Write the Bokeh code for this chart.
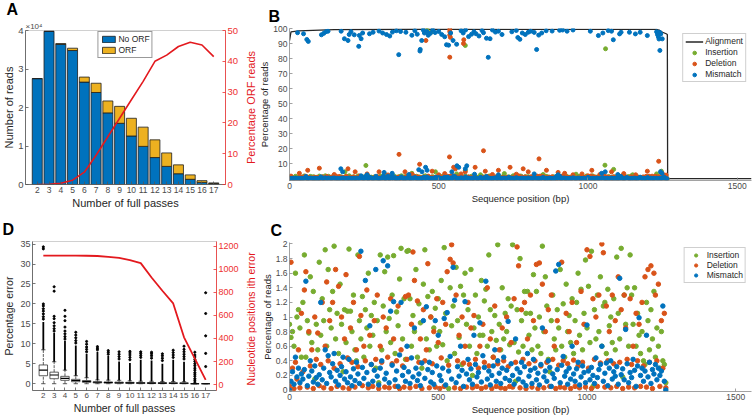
from bokeh.plotting import figure
from bokeh.models import (Range1d, LinearAxis, FixedTicker, Legend, LegendItem,
                          ColumnDataSource, PrintfTickFormatter, Title)
from bokeh.layouts import row, column
from bokeh.embed import file_html
from bokeh.resources import INLINE

FONT = "Liberation Sans"
BLUE, ORANGE, YELLOW, GREEN = "#0072BD", "#D95319", "#EDB120", "#77AC30"
RED = "#E3191E"
RED_TXT = "#EE3030"
GRAY_TXT = "#4a4a4a"
AX_GRAY = "#8a8a8a"

# ---------------- Panel A data ----------------
passes = [2, 3, 4, 5, 6, 7, 8, 9, 10, 11, 12, 13, 14, 15, 16, 17]
no_orf_reads = [27500, 39800, 36400, 34800, 26600, 23900, 18600, 15900, 12600, 9900, 7000, 4700, 2800, 1350, 550, 250]
orf_reads = [0, 0, 200, 600, 1300, 2400, 3100, 4400, 4600, 5000, 4600, 3500, 2300, 1150, 450, 170]
orf_percent = [0.0, 0.1, 0.4, 1.4, 4.0, 9.5, 15.5, 21.5, 27.5, 33.5, 40.0, 42.0, 44.8, 46.2, 45.3, 41.5]
reads_ticks = [0, 10000, 20000, 30000, 40000]
reads_tick_labels = ["0", "1", "2", "3", "4"]
orf_pct_ticks = [0, 10, 20, 30, 40, 50]

# ---------------- Panel D data ----------------
err_q1 = [2.0, 1.25, 0.85, 0.5, 0.35, 0.2, 0.15, 0.1, 0.1, 0.05, 0.05, 0.05, 0.05, 0.03, 0.0, 0.0]
err_median = [3.4, 2.2, 1.35, 0.8, 0.55, 0.35, 0.3, 0.25, 0.2, 0.18, 0.15, 0.15, 0.12, 0.1, 0.0, 0.0]
err_q3 = [4.7, 2.9, 1.85, 1.1, 0.8, 0.5, 0.45, 0.4, 0.35, 0.3, 0.28, 0.25, 0.25, 0.22, 0.0, 0.0]
err_whisker_lo = [0.0, 0.0, 0.0, 0.0, 0.0, 0.0, 0.0, 0.0, 0.0, 0.0, 0.0, 0.0, 0.0, 0.0, 0.0, 0.0]
err_whisker_hi = [8.5, 5.5, 3.4, 2.0, 1.5, 0.95, 0.9, 0.85, 0.72, 0.62, 0.6, 0.55, 0.55, 0.5, 0.0, 0.0]
err_dense_hi = [15.5, 12.8, 10.8, 9.6, 7.5, 8.0, 7.0, 5.6, 5.2, 6.0, 5.8, 5.0, 6.0, 5.5, 0.0, 0.0]
outlier_pass = [2, 2, 2, 2, 2, 2, 2, 2, 2,
                3, 3, 3, 3, 3, 3, 3, 3,
                4, 4, 4, 4, 4, 4, 4, 4,
                5, 5, 5, 5, 5,
                6, 6, 6, 6, 6,
                7, 7, 7,
                8, 8, 8,
                9, 9, 9, 9,
                10, 10, 10, 10, 10,
                11, 11, 11, 11,
                12, 12, 12, 12,
                13, 13, 13, 13,
                14, 14, 14, 14,
                15, 15, 15, 15, 15, 15,
                16, 16, 16, 16, 16, 16, 16, 16, 16, 16, 16, 16, 16, 16, 16,
                17, 17, 17, 17, 17]
outlier_err = [16.2, 16.8, 17.5, 18.2, 18.8, 19.5, 20.0, 33.8, 34.3,
               13.2, 13.8, 14.5, 15.3, 16.3, 16.9, 23.2, 24.3,
               11.2, 11.8, 12.5, 13.2, 14.2, 15.8, 16.9, 18.4,
               10.2, 10.8, 11.5, 12.2, 12.9,
               8.0, 8.6, 9.2, 9.9, 10.6,
               8.5, 8.9, 9.3,
               7.4, 7.9, 8.3,
               6.2, 6.8, 7.4, 8.0,
               6.0, 6.6, 7.2, 7.7, 8.1,
               6.6, 7.1, 7.6, 8.0,
               6.4, 7.0, 7.5, 7.9,
               5.8, 6.4, 7.0, 7.5,
               6.6, 7.2, 7.8, 8.4,
               6.2, 6.8, 7.4, 8.0, 8.6, 9.4,
               0.4, 0.9, 1.3, 1.9, 2.4, 2.8, 3.4, 3.9, 4.5, 5.0, 5.6, 6.1, 6.7, 7.2, 7.9,
               4.3, 7.6, 12.0, 17.6, 22.8]
nuc_positions = [1120, 1120, 1120, 1120, 1119, 1117, 1110, 1100, 1082, 1055, 930, 815, 705, 410, 225, 40]
err_ticks = [0, 5, 10, 15, 20, 25, 30, 35]
nuc_ticks = [0, 200, 400, 600, 800, 1000, 1200]

# ---------------- Panels B / C data ----------------
pos = [0, 5, 10, 15, 20, 25, 30, 35, 40, 45,
       50, 55, 60, 65, 70, 75, 80, 85, 90, 95,
       100, 105, 110, 115, 120, 125, 130, 135, 140, 145,
       150, 155, 160, 165, 170, 175, 180, 185, 190, 195,
       200, 205, 210, 215, 220, 225, 230, 235, 240, 245,
       250, 255, 260, 265, 270, 275, 280, 285, 290, 295,
       300, 305, 310, 315, 320, 325, 330, 335, 340, 345,
       350, 355, 360, 365, 370, 375, 380, 385, 390, 395,
       400, 405, 410, 415, 420, 425, 430, 435, 440, 445,
       450, 455, 460, 465, 470, 475, 480, 485, 490, 495,
       500, 505, 510, 515, 520, 525, 530, 535, 540, 545,
       550, 555, 560, 565, 570, 575, 580, 585, 590, 595,
       600, 605, 610, 615, 620, 625, 630, 635, 640, 645,
       650, 655, 660, 665, 670, 675, 680, 685, 690, 695,
       700, 705, 710, 715, 720, 725, 730, 735, 740, 745,
       750, 755, 760, 765, 770, 775, 780, 785, 790, 795,
       800, 805, 810, 815, 820, 825, 830, 835, 840, 845,
       850, 855, 860, 865, 870, 875, 880, 885, 890, 895,
       900, 905, 910, 915, 920, 925, 930, 935, 940, 945,
       950, 955, 960, 965, 970, 975, 980, 985, 990, 995,
       1000, 1005, 1010, 1015, 1020, 1025, 1030, 1035, 1040, 1045,
       1050, 1055, 1060, 1065, 1070, 1075, 1080, 1085, 1090, 1095,
       1100, 1105, 1110, 1115, 1120, 1125, 1130, 1135, 1140, 1145,
       1150, 1155, 1160, 1165, 1170, 1175, 1180, 1185, 1190, 1195,
       1200, 1205, 1210, 1215, 1220, 1225, 1230, 1235, 1240, 1245,
       1250, 1255, 1260, 1265]

ins_pct = [0.9, 0.72, 0.8, 0.6, 1.6, 1.0, 1.1, 0.85, 0.45, 1.2,
           1.85, 0.45, 0.95, 0.78, 1.55, 0.65, 1.35, 0.15, 0.9, 0.55,
           1.75, 0.75, 1.25, 0.95, 1.92, 0.6, 1.65, 1.1, 0.85, 1.35,
           1.97, 0.7, 1.05, 0.5, 1.45, 0.9, 0.25, 1.1, 0.65, 1.08,
           1.93, 1.08, 0.8, 1.3, 0.55, 0.4, 1.85, 0.95, 0.7, 1.28,
           0.45, 1.1, 0.85, 1.6, 0.6, 1.02, 0.75, 1.2, 0.3, 0.95,
           0.1, 1.85, 0.55, 1.15, 1.62, 0.8, 1.82, 0.98, 0.65, 1.3,
           1.84, 0.5, 1.07, 0.88, 1.52, 1.94, 0.7, 1.25, 0.42, 1.9,
           1.91, 1.25, 0.6, 1.02, 0.8, 1.65, 0.45, 1.18, 0.92, 0.3,
           1.45, 1.92, 0.7, 1.28, 0.55, 1.0, 1.35, 0.85, 1.12, 0.6,
           1.25, 0.8, 1.5, 0.62, 1.95, 1.05, 0.4, 0.02, 1.4, 0.88,
           1.15, 0.5, 1.68, 0.95, 0.72, 1.42, 0.35, 1.3, 1.6, 0.9,
           1.1, 0.6, 1.65, 0.2, 0.85, 1.3, 0.5, 1.0, 0.75, 1.5,
           0.75, 1.22, 1.38, 0.6, 1.85, 1.1, 0.8, 0.45, 1.02, 0.68,
           1.99, 0.9, 0.55, 1.4, 0.7, 1.05, 0.8, 1.25, 0.62, 1.15,
           1.99, 0.65, 0.12, 1.1, 0.52, 1.8, 0.95, 0.6, 1.35, 1.05,
           1.35, 0.75, 1.05, 0.55, 1.58, 0.85, 1.35, 0.6, 1.0, 0.5,
           1.97, 0.8, 1.55, 1.15, 0.42, 0.25, 0.95, 1.3, 0.7, 0.55,
           1.1, 0.85, 1.65, 0.6, 1.18, 0.45, 1.45, 0.8, 1.02, 0.65,
           1.25, 0.5, 0.95, 1.2, 1.6, 0.75, 1.38, 0.55, 1.05, 1.78,
           0.85, 1.42, 0.65, 1.9, 0.05, 1.1, 0.7, 1.3, 0.8, 1.55,
           0.6, 1.15, 1.2, 0.5, 1.38, 0.88, 1.0, 0.65, 1.25, 0.55,
           1.82, 1.05, 0.7, 1.94, 0.18, 1.3, 0.9, 1.4, 0.6, 1.85,
           1.3, 0.9, 1.4, 0.6, 1.05, 0.75, 0.5, 0.8, 0.4, 0.35,
           1.2, 0.95, 0.55, 1.1, 0.7, 1.35, 0.45, 0.85, 0.6, 0.3,
           0.8, 0.4, 0.35, 0.1]

del_pct = [0.05, 1.75, 0.3, 0.02, 0.38, 0.15, 0.55, 0.03, 1.05, 0.25,
           1.37, 1.62, 0.04, 0.8, 0.33, 0.55, 0.02, 1.0, 0.42, 0.78,
           0.06, 0.35, 1.2, 0.03, 0.6, 1.48, 0.4, 0.95, 0.02, 1.2,
           0.3, 1.65, 0.05, 1.42, 0.36, 1.0, 0.03, 0.7, 1.58, 0.44,
           0.02, 0.85, 0.38, 1.2, 0.04, 0.55, 0.32, 1.83, 1.02, 0.06,
           0.6, 0.4, 1.37, 0.03, 0.75, 0.35, 0.05, 0.95, 0.42, 1.3,
           0.02, 0.6, 0.38, 1.0, 0.04, 0.85, 0.45, 0.03, 1.25, 0.36,
           0.7, 0.05, 0.4, 1.15, 0.02, 0.55, 0.33, 0.04, 1.28, 0.42,
           1.3, 0.03, 0.9, 1.89, 1.5, 0.05, 1.22, 0.38, 0.7, 0.02,
           1.1, 0.4, 0.55, 1.73, 0.03, 1.0, 0.36, 0.8, 0.04, 1.25,
           0.65, 0.02, 0.44, 1.2, 0.05, 0.9, 1.62, 0.34, 1.79, 1.99,
           1.74, 0.03, 1.3, 0.4, 0.75, 0.02, 1.0, 0.37, 0.6, 0.04,
           1.2, 0.35, 0.85, 0.03, 1.02, 0.42, 0.05, 0.3, 0.6, 0.02,
           0.9, 0.38, 0.04, 1.4, 0.33, 0.7, 0.02, 0.45, 1.15, 0.05,
           0.36, 0.55, 0.03, 0.85, 0.4, 0.02, 1.0, 0.32, 0.05, 0.65,
           0.04, 1.25, 0.38, 1.96, 1.7, 0.03, 1.1, 0.42, 1.2, 0.02,
           0.7, 0.36, 1.3, 0.04, 0.95, 0.4, 1.72, 0.02, 1.74, 0.33,
           1.45, 0.03, 0.8, 0.38, 1.1, 0.05, 1.3, 0.42, 0.6, 0.02,
           0.95, 0.34, 0.04, 1.75, 0.4, 0.03, 1.05, 0.36, 0.8, 0.02,
           1.2, 0.41, 0.05, 0.65, 0.33, 0.03, 1.35, 0.38, 0.9, 0.04,
           1.92, 0.3, 1.83, 0.02, 1.25, 0.42, 1.0, 0.05, 1.3, 0.37,
           2.0, 1.88, 0.04, 1.15, 0.4, 0.8, 0.03, 1.3, 0.36, 0.95,
           0.05, 1.55, 0.38, 1.1, 0.02, 1.3, 0.85, 0.42, 0.04, 1.25,
           0.35, 0.6, 0.03, 1.05, 0.4, 0.9, 0.05, 1.2, 0.33, 1.55,
           0.04, 1.65, 0.38, 1.7, 0.02, 1.6, 1.3, 0.4, 1.45, 0.05,
           0.95, 0.3, 1.05, 0.03]

mis_pct = [0.0, 0.12, 0.25, 0.08, 0.45, 0.18, 0.3, 0.1, 0.22, 0.15,
           0.28, 1.49, 0.06, 0.19, 0.4, 0.26, 0.11, 0.33, 0.17, 0.08,
           0.21, 1.2, 0.14, 0.3, 0.55, 0.09, 0.47, 0.24, 0.18, 0.36,
           0.5, 0.12, 0.27, 0.07, 0.2, 0.32, 0.45, 0.15, 0.25, 0.1,
           0.42, 0.18, 0.06, 0.29, 0.13, 0.38, 0.22, 0.09, 1.9, 0.31,
           0.16, 1.5, 0.24, 0.08, 0.88, 0.35, 0.12, 0.27, 1.65, 0.19,
           0.07, 0.3, 0.4, 1.77, 0.15, 0.23, 1.7, 0.1, 1.08, 0.34,
           1.21, 0.14, 0.26, 0.05, 0.48, 1.2, 0.2, 0.31, 0.12, 0.6,
           0.25, 0.09, 0.44, 0.18, 0.85, 0.3, 0.13, 0.22, 0.06, 0.37,
           0.95, 0.16, 1.14, 0.28, 0.38, 0.11, 0.24, 0.08, 0.95, 0.33,
           0.75, 0.2, 0.13, 0.3, 0.98, 0.07, 1.06, 0.26, 0.46, 0.15,
           1.68, 1.23, 0.1, 0.32, 0.19, 0.6, 0.27, 0.05, 1.21, 0.22,
           0.42, 0.14, 0.29, 0.08, 0.75, 0.35, 0.18, 0.24, 0.92, 0.11,
           0.47, 0.31, 1.49, 0.15, 0.26, 0.07, 0.2, 0.33, 0.55, 0.12,
           0.4, 0.23, 0.09, 0.3, 0.45, 0.16, 0.27, 0.94, 0.13, 0.36,
           0.2, 0.08, 0.7, 0.29, 0.15, 0.24, 0.38, 0.11, 0.32, 0.06,
           0.5, 0.19, 0.27, 0.09, 0.42, 0.3, 0.14, 0.23, 0.07, 0.35,
           0.85, 0.18, 0.26, 0.12, 0.4, 0.31, 0.05, 0.22, 0.16, 1.63,
           0.28, 1.72, 0.1, 0.34, 0.46, 0.19, 0.25, 0.08, 0.3, 0.15,
           0.6, 0.22, 0.12, 0.29, 0.38, 0.07, 0.18, 0.33, 0.24, 0.1,
           0.89, 0.26, 0.14, 0.31, 0.2, 0.09, 0.44, 0.17, 0.28, 0.35,
           0.6, 0.12, 0.23, 0.37, 0.06, 0.3, 0.4, 0.15, 0.25, 0.19,
           0.32, 0.08, 1.53, 0.21, 0.29, 0.14, 0.83, 0.36, 0.1, 0.24,
           0.17, 0.42, 0.27, 0.05, 0.33, 0.99, 0.2, 0.3, 0.12, 0.26,
           0.75, 0.18, 0.38, 0.09, 0.28, 0.22, 0.35, 0.14, 0.3, 0.2,
           0.26, 1.15, 0.12, 0.0]

# sites with larger rates (visible in panel B)
ins_hi_pos = [186, 256, 320, 410, 461, 474, 489, 560, 589, 589, 640, 720, 850, 960, 1057, 1059, 1086, 1150, 1230, 1246]
ins_hi_pct = [4.6, 8.8, 2.8, 3.6, 98.8, 97.5, 4.6, 3.2, 5.6, 88.7, 2.6, 3.4, 2.8, 3.0, 9.0, 86.5, 6.2, 2.6, 3.2, 5.0]

del_hi_pos = [33, 61, 100, 150, 196, 220, 260, 300, 330, 367, 387, 410, 436, 457, 478, 500, 520,
              536, 537, 537, 537, 539, 537, 550, 556, 575, 583, 584, 589, 622, 650, 656, 680, 700,
              739, 760, 783, 800, 836, 861, 900, 922, 950, 980, 1013, 1040, 1079, 1120, 1160,
              1199, 1237, 1250, 1262]
del_hi_pct = [3.6, 5.6, 7.0, 2.8, 6.6, 4.6, 3.2, 4.6, 2.5, 16.2, 4.6, 3.0, 9.6, 92.0, 5.0, 2.6, 3.4,
              14.5, 99.4, 97.9, 95.7, 94.1, 80.9, 7.6, 6.6, 3.2, 90.0, 92.5, 4.6, 7.6, 18.6, 5.0, 2.8, 5.6,
              7.6, 3.0, 6.6, 4.6, 13.2, 5.6, 4.2, 3.6, 2.6, 3.2, 5.6, 2.8, 4.6, 3.4, 2.6,
              5.0, 11.6, 3.2, 2.4]

mis_hi_pos = [172, 178, 260, 317, 344, 400, 433, 444, 456, 461, 544, 561, 567, 589, 594, 620, 700,
              820, 900, 1046, 1058, 1100, 1243, 1248,
              27, 47, 58, 63, 107, 115, 122, 129, 173, 184, 196, 200, 206, 217, 232, 234, 240, 245,
              268, 280, 300, 312, 325, 336, 345, 358, 366, 372, 390, 410, 420, 428, 437, 438, 443,
              448, 452, 460, 465, 472, 480, 488, 500, 510, 520, 526, 533, 540, 548, 560, 575, 582,
              590, 600, 610, 618, 625, 635, 645, 650, 660, 666, 672, 680, 690, 700, 712, 745, 760,
              765, 772, 780, 790, 800, 808, 820, 828, 835, 845, 860, 880, 905, 915, 930, 950, 1008,
              1035, 1050, 1068, 1079, 1085, 1106, 1111, 1139, 1159, 1175, 1199, 1230, 1233, 1236,
              1238, 1240, 1241, 1242, 1244, 1249]
mis_hi_pct = [6.6, 4.6, 2.6, 4.2, 3.6, 2.8, 6.0, 4.6, 7.6, 5.6, 4.6, 8.6, 7.6, 6.6, 8.6, 3.0, 2.6,
              3.2, 2.6, 3.6, 4.6, 2.8, 4.6, 3.6,
              97.2, 96.5, 92.7, 91.4, 95.8, 96.8, 97.9, 98.2, 98.2, 93.2, 92.0, 96.0, 97.9, 95.8, 88.1, 95.4, 93.2, 97.0,
              96.5, 97.5, 98.3, 97.0, 96.0, 95.0, 97.6, 98.5, 82.6, 98.0, 97.5, 95.5, 98.5, 96.2, 85.0, 86.1, 92.0,
              99.0, 97.0, 98.0, 95.5, 96.8, 99.0, 97.3, 98.0, 96.0, 94.5, 89.2, 88.9, 97.0, 92.0, 89.5, 98.5, 97.0,
              99.0, 94.6, 96.2, 97.8, 96.5, 95.0, 98.6, 97.2, 93.5, 80.8, 93.2, 99.0, 97.6, 98.2, 96.0, 97.8, 98.7,
              94.0, 92.8, 97.0, 96.0, 97.5, 98.2, 97.4, 86.0, 95.6, 97.0, 98.5, 98.3, 98.8, 99.0, 98.2, 99.0, 98.2,
              95.3, 97.0, 98.6, 98.2, 92.5, 96.4, 97.5, 97.5, 96.4, 97.5, 95.3, 97.8, 96.0, 94.5,
              93.0, 97.5, 85.4, 96.8, 96.4, 93.1]

align_pos = [0, 5, 30, 150, 400, 1230, 1240, 1250, 1262, 1266, 1267, 1548]
align_pct = [92.0, 97.8, 98.4, 99.3, 99.5, 99.4, 98.8, 97.5, 96.5, 96.0, 0.0, 0.0]

pos_ticks = [0, 500, 1000, 1500]
b_pct_ticks = [10, 20, 30, 40, 50, 60, 70, 80, 90, 100]
c_pct_ticks = [0, 0.2, 0.4, 0.6, 0.8, 1.0, 1.2, 1.4, 1.6, 1.8, 2.0]


# ---------------- helpers ----------------
def make_fig(w, h, xr, yr, bl, br, bt, bb, outline):
    p = figure(width=w, height=h, x_range=xr, y_range=yr, output_backend="svg",
               toolbar_location=None, min_border_left=bl, min_border_right=br,
               min_border_top=bt, min_border_bottom=bb)
    p.grid.visible = False
    p.outline_line_color = outline
    p.outline_line_width = 0.8
    p.background_fill_color = "white"
    p.border_fill_color = "white"
    return p


def style_axis(ax, tick_px, label_px, line_color=AX_GRAY, tick_color=GRAY_TXT,
               label_color="#262626", label_standoff=1):
    ax.axis_line_color = line_color
    ax.axis_line_width = 0.8
    ax.major_tick_line_color = line_color
    ax.major_tick_line_width = 0.8
    ax.minor_tick_line_color = None
    ax.major_tick_in = 3
    ax.major_tick_out = 0
    ax.minor_tick_in = 0
    ax.minor_tick_out = 0
    ax.major_label_text_font = FONT
    ax.major_label_text_font_size = f"{tick_px}px"
    ax.major_label_text_color = tick_color
    ax.major_label_standoff = 2
    ax.axis_label_text_font = FONT
    ax.axis_label_text_font_size = f"{label_px}px"
    ax.axis_label_text_font_style = "normal"
    ax.axis_label_text_color = label_color
    ax.axis_label_standoff = label_standoff


def no_axis_title(ax):
    ax.axis_label = None
    ax.axis_label_standoff = 0
    ax.axis_label_text_font_size = "1px"


def side_label(w, h, text, border_left, bt, bb, label_px):
    """Narrow strip that carries a right-hand axis title, reading bottom to top."""
    f = figure(width=w, height=h, x_range=Range1d(0, 1), y_range=Range1d(0, 1),
               output_backend="svg", toolbar_location=None, min_border_left=border_left,
               min_border_right=0, min_border_top=bt, min_border_bottom=bb)
    f.outline_line_color = None
    f.grid.visible = False
    f.xaxis.visible = False
    f.background_fill_color = "white"
    f.border_fill_color = "white"
    ax = f.yaxis[0]
    ax.ticker = FixedTicker(ticks=[])
    ax.axis_line_color = None
    ax.major_tick_line_color = None
    ax.minor_tick_line_color = None
    ax.major_tick_in = 0
    ax.major_tick_out = 0
    ax.minor_tick_in = 0
    ax.minor_tick_out = 0
    ax.major_label_standoff = 0
    ax.axis_label = text
    ax.axis_label_text_font = FONT
    ax.axis_label_text_font_size = f"{label_px}px"
    ax.axis_label_text_font_style = "normal"
    ax.axis_label_text_color = RED
    ax.axis_label_standoff = 0
    return f


def set_letter(p, text, offset, standoff):
    p.title.text = text
    p.title.text_font = FONT
    p.title.text_font_size = "16px"
    p.title.text_font_style = "bold"
    p.title.text_color = "black"
    p.title.align = "left"
    p.title.vertical_align = "top"
    p.title.offset = offset
    p.title.standoff = standoff


def style_legend(lg, font_px, gh, gw, spacing):
    lg.border_line_color = "#a0a0a0"
    lg.border_line_width = 0.8
    lg.background_fill_color = "white"
    lg.background_fill_alpha = 1.0
    lg.label_text_font = FONT
    lg.label_text_font_size = f"{font_px}px"
    lg.label_text_color = "#262626"
    lg.glyph_height = gh
    lg.glyph_width = gw
    lg.label_height = gh
    lg.label_standoff = 2
    lg.spacing = spacing
    lg.padding = 2


RW = 496

# ---------------- Panel A ----------------
pA = make_fig(241, 212, Range1d(1, 18), Range1d(0, 40000), 20, 15, 27, 28, "#c4c4c4")
pA.extra_y_ranges = {"pct": Range1d(0, 50)}
srcA = ColumnDataSource(dict(x=passes, no=no_orf_reads,
                             top=[a + b for a, b in zip(no_orf_reads, orf_reads)]))
r_no = pA.vbar(x="x", width=0.85, bottom=0, top="no", source=srcA,
               fill_color=BLUE, line_color="#1e1e1e", line_width=0.8)
r_orf = pA.vbar(x="x", width=0.85, bottom="no", top="top", source=srcA,
                fill_color=YELLOW, line_color="#1e1e1e", line_width=0.8)
pA.line(passes, orf_percent, y_range_name="pct", line_color=RED, line_width=1.6)

pA.xaxis.ticker = FixedTicker(ticks=passes)
pA.xaxis.axis_label = "Number of full passes"
style_axis(pA.xaxis[0], 8.5, 11, line_color="#555555")
pA.yaxis.ticker = FixedTicker(ticks=reads_ticks)
pA.yaxis.major_label_overrides = dict(zip(reads_ticks, reads_tick_labels))
pA.yaxis.axis_label = "Number of reads"
style_axis(pA.yaxis[0], 9.5, 11, line_color="#555555", label_standoff=0)
axA_r = LinearAxis(y_range_name="pct", ticker=FixedTicker(ticks=orf_pct_ticks))
style_axis(axA_r, 9.5, 11, line_color=RED_TXT, tick_color=RED_TXT, label_color=RED)
no_axis_title(axA_r)
pA.add_layout(axA_r, "right")

legA = Legend(items=[LegendItem(label="No ORF", renderers=[r_no]),
                     LegendItem(label="ORF", renderers=[r_orf])], location="top_center")
style_legend(legA, 8.5, 8, 16, 1)
legA.border_line_color = "#333333"
legA.margin = 1
pA.add_layout(legA)
set_letter(pA, "A", -19, 0)
pA.add_layout(Title(text="×10⁴", text_font=FONT, text_font_size="8px", text_font_style="normal",
                    text_color=GRAY_TXT, align="left", standoff=0), "above")
lblA = side_label(15, 212, "Percentage ORF reads", 13, 29, 28, 11)

# ---------------- Panel D ----------------
pD = make_fig(242, 205, Range1d(1, 18), Range1d(-1.7, 35.65), 32, 26, 29, 27, "#c4c4c4")
pD.extra_y_ranges = {"nuc": Range1d(-52, 1243)}
bw = 0.78
cw = 0.4
boxsrc = ColumnDataSource(dict(
    x=passes, q1=err_q1, med=err_median, q3=err_q3, lo=err_whisker_lo, hi=err_whisker_hi,
    left=[x - bw / 2 for x in passes], right=[x + bw / 2 for x in passes],
    cl=[x - cw / 2 for x in passes], cr=[x + cw / 2 for x in passes]))
pD.segment(x0="x", y0="q3", x1="x", y1="hi", source=boxsrc, line_color="#333333",
           line_width=0.8, line_dash="3 1")
pD.segment(x0="x", y0="lo", x1="x", y1="q1", source=boxsrc, line_color="#333333",
           line_width=0.8, line_dash="3 1")
pD.segment(x0="cl", y0="hi", x1="cr", y1="hi", source=boxsrc, line_color="#333333", line_width=0.8)
pD.segment(x0="cl", y0="lo", x1="cr", y1="lo", source=boxsrc, line_color="#333333", line_width=0.8)
pD.quad(left="left", right="right", bottom="q1", top="q3", source=boxsrc,
        fill_color="white", line_color="#333333", line_width=0.8)
pD.segment(x0="left", y0="med", x1="right", y1="med", source=boxsrc, line_color="black", line_width=1.1)
dense = [(x, a, b) for x, a, b in zip(passes, err_whisker_hi, err_dense_hi) if b > a]
pD.segment(x0=[d[0] for d in dense], y0=[d[1] for d in dense], x1=[d[0] for d in dense],
           y1=[d[2] for d in dense], line_color="black", line_width=1.8)
n_out = min(len(outlier_pass), len(outlier_err))
pD.scatter(outlier_pass[:n_out], outlier_err[:n_out], size=2.1, color="black")
pD.line(passes, nuc_positions, y_range_name="nuc", line_color=RED, line_width=1.8)

pD.xaxis.ticker = FixedTicker(ticks=passes)
pD.xaxis.axis_label = "Number of full passes"
style_axis(pD.xaxis[0], 8, 10.5, line_color="#555555")
pD.yaxis.ticker = FixedTicker(ticks=err_ticks)
pD.yaxis.axis_label = "Percentage error"
style_axis(pD.yaxis[0], 9, 10.5, line_color="#555555", label_standoff=2)
axD_r = LinearAxis(y_range_name="nuc", ticker=FixedTicker(ticks=nuc_ticks))
style_axis(axD_r, 9, 10.5, line_color=RED_TXT, tick_color=RED_TXT, label_color=RED)
no_axis_title(axD_r)
pD.add_layout(axD_r, "right")
set_letter(pD, "D", -30, 4)
lblD = side_label(14, 205, "Nucleotide positions   ith error", 13, 29, 27, 10.5)

# ---------------- shared sources for B and C ----------------
n_p = min(len(pos), len(ins_pct), len(del_pct), len(mis_pct))
ins_src = dict(x=pos[:n_p] + ins_hi_pos, y=ins_pct[:n_p] + ins_hi_pct)
del_src = dict(x=pos[:n_p] + del_hi_pos, y=del_pct[:n_p] + del_hi_pct)
mis_src = dict(x=pos[:n_p] + mis_hi_pos, y=mis_pct[:n_p] + mis_hi_pct)

# ---------------- Panel B ----------------
pB = make_fig(RW, 206, Range1d(0, 1548), Range1d(-1.2, 100), 27, 1, 28, 26, None)
r_al = pB.line(align_pos, align_pct, line_color="#262626", line_width=1.3)
r_bi = pB.scatter("x", "y", source=ColumnDataSource(ins_src), size=4, color=GREEN)
r_bd = pB.scatter("x", "y", source=ColumnDataSource(del_src), size=4, color=ORANGE)
r_bm = pB.scatter("x", "y", source=ColumnDataSource(mis_src), size=4, color=BLUE)
pB.xaxis.ticker = FixedTicker(ticks=pos_ticks)
pB.xaxis.axis_label = "Sequence position (bp)"
style_axis(pB.xaxis[0], 8.5, 9.5)
pB.yaxis.ticker = FixedTicker(ticks=b_pct_ticks)
pB.yaxis.axis_label = "Percentage of reads"
style_axis(pB.yaxis[0], 8.5, 9.5, label_standoff=0)
legB = Legend(items=[LegendItem(label="Alignment", renderers=[r_al]),
                     LegendItem(label="Insertion", renderers=[r_bi]),
                     LegendItem(label="Deletion", renderers=[r_bd]),
                     LegendItem(label="Mismatch", renderers=[r_bm])], location="top_right")
style_legend(legB, 8.5, 9, 18, 1)
legB.margin = 5
pB.add_layout(legB)
set_letter(pB, "B", -21, 4)

# ---------------- Panel C ----------------
pC = make_fig(RW, 211, Range1d(0, 1553), Range1d(-0.02, 2.02), 25, 1, 36, 24, None)
r_ci = pC.scatter("x", "y", source=ColumnDataSource(ins_src), size=4.5, color=GREEN)
r_cd = pC.scatter("x", "y", source=ColumnDataSource(del_src), size=4.5, color=ORANGE)
r_cm = pC.scatter("x", "y", source=ColumnDataSource(mis_src), size=4.5, color=BLUE)
pC.xaxis.ticker = FixedTicker(ticks=pos_ticks)
pC.xaxis.axis_label = "Sequence position (bp)"
style_axis(pC.xaxis[0], 8.5, 9.5)
pC.yaxis.ticker = FixedTicker(ticks=c_pct_ticks)
pC.yaxis.formatter = PrintfTickFormatter(format="%g")
pC.yaxis.axis_label = "Percentage of reads"
style_axis(pC.yaxis[0], 8.5, 9.5, label_standoff=0)
legC = Legend(items=[LegendItem(label="Insertion", renderers=[r_ci]),
                     LegendItem(label="Deletion", renderers=[r_cd]),
                     LegendItem(label="Mismatch", renderers=[r_cm])], location="top_right")
style_legend(legC, 8.5, 8, 18, 0)
legC.margin = 5
pC.add_layout(legC)
set_letter(pC, "C", -19, 4)

layout = row(column(row(pA, lblA), row(pD, lblD)), column(pB, pC))
with open("out.html", "w") as f:
    f.write(file_html(layout, INLINE))
